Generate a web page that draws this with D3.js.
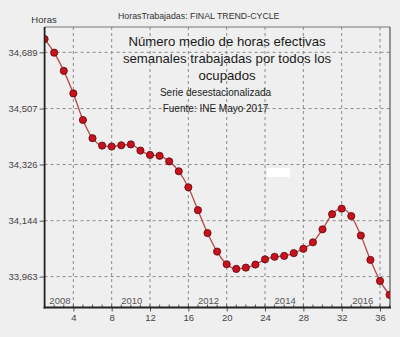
<!DOCTYPE html>
<html><head><meta charset="utf-8">
<script src="https://cdn.jsdelivr.net/npm/d3@7"></script>
<style>
html,body{margin:0;padding:0;background:#efefef;}
svg{display:block;font-family:"Liberation Sans",Arial,sans-serif;}
</style></head>
<body><svg id="c" width="400" height="337"></svg>
<script>
const quarters = d3.range(1, 38);
const hours = [34732,34688,34629,34556,34470,34411,34387,34384,34388,34391,34371,34357,34354,34336,34304,34252,34178,34104,34044,34003,33988,33992,34002,34019,34027,34030,34039,34053,34074,34116,34165,34183,34159,34096,34017,33949,33904];
const yTicks = [33963,34144,34326,34507,34689];
const yTickLabels = ["33,963","34,144","34,326","34,507","34,689"];
const xTicks = [4,8,12,16,20,24,28,32,36];
const yearLabels = ["2008","2010","2012","2014","2016"];
const yearPos = [2.6,10.1,18.1,26.1,34.2];
const titleLines = ["Número medio de horas efectivas","semanales trabajadas por todos los","ocupados"];
const subLines = ["Serie desestacionalizada","Fuente: INE Mayo 2017"];

const svg = d3.select("#c");
const L=44.6, R=389.6, T=27, B=307.5;
const x = d3.scaleLinear().domain([1,37]).range([L,R]);
const y = d3.scaleLinear().domain([33863,34771]).range([B,T]);

svg.append("rect").attr("width",400).attr("height",337).attr("fill","#efefef");

// grid
const g = svg.append("g");
g.selectAll(".vg").data(xTicks).join("line")
  .attr("x1",d=>x(d)).attr("x2",d=>x(d)).attr("y1",T).attr("y2",B)
  .attr("stroke","#8a8a8a").attr("stroke-width",1).attr("stroke-dasharray","3,3");
g.selectAll(".hg").data(yTicks).join("line")
  .attr("x1",L).attr("x2",390).attr("y1",d=>y(d)).attr("y2",d=>y(d))
  .attr("stroke","#8a8a8a").attr("stroke-width",1).attr("stroke-dasharray","3,3");

// white box
svg.append("rect").attr("x",267).attr("y",168).attr("width",23).attr("height",9).attr("fill","#ffffff");

// frame top/right
svg.append("line").attr("x1",L).attr("x2",390).attr("y1",T).attr("y2",T).attr("stroke","#777").attr("stroke-width",1);
svg.append("line").attr("x1",390).attr("x2",390).attr("y1",T).attr("y2",B).attr("stroke","#555").attr("stroke-width",1.2);

// axes
const yAxis = d3.axisLeft(y).tickValues(yTicks).tickFormat((d,i)=>yTickLabels[i]).tickSize(5).tickPadding(2);
const ya = svg.append("g").attr("transform",`translate(${L},0)`).call(yAxis);
ya.select(".domain").remove();
ya.selectAll("line").attr("stroke","#555");
ya.selectAll("text").attr("font-size",9.5).attr("fill","#444").attr("font-family","Liberation Sans, Arial, sans-serif");

const xAxis = d3.axisBottom(x).tickValues(xTicks).tickFormat(d3.format("d")).tickSize(4).tickPadding(3);
const xa = svg.append("g").attr("transform",`translate(0,${B})`).call(xAxis);
xa.select(".domain").remove();
xa.selectAll("line").attr("stroke","#555");
xa.selectAll("text").attr("font-size",9.5).attr("fill","#444").attr("font-family","Liberation Sans, Arial, sans-serif");

// minor ticks inside
svg.append("g").selectAll("line").data(quarters).join("line")
  .attr("x1",d=>x(d)).attr("x2",d=>x(d)).attr("y1",B-3).attr("y2",B)
  .attr("stroke","#555").attr("stroke-width",1);

// year labels
svg.append("g").selectAll("text").data(yearLabels).join("text")
  .attr("x",(d,i)=>x(yearPos[i])).attr("y",B-4).attr("text-anchor","middle")
  .attr("font-size",9.5).attr("fill","#555").text(d=>d);

// titles
svg.append("g").selectAll("text").data(titleLines).join("text")
  .attr("x",227).attr("y",(d,i)=>46+i*17).attr("text-anchor","middle")
  .attr("font-size",13.2).attr("fill","#1a1a1a").text(d=>d);
svg.append("g").selectAll("text").data(subLines).join("text")
  .attr("x",215.5).attr("y",(d,i)=>96+i*16).attr("text-anchor","middle")
  .attr("font-size",10).attr("fill","#222").text(d=>d);

svg.append("text").attr("x",44).attr("y",23).attr("text-anchor","middle").attr("font-size",9.5).attr("fill","#333").text("Horas");
svg.append("text").attr("x",118).attr("y",18.5).attr("font-size",8.8).attr("fill","#333").text("HorasTrabajadas: FINAL TREND-CYCLE");

// data
const clip = svg.append("clipPath").attr("id","clp").append("rect").attr("x",L).attr("y",T).attr("width",390-L).attr("height",B-T);
const dg = svg.append("g").attr("clip-path","url(#clp)");
const line = d3.line().x((d,i)=>x(quarters[i])).y(d=>y(d)).curve(d3.curveMonotoneX);
dg.append("path").datum(hours).attr("d",line).attr("fill","none").attr("stroke","#b84848").attr("stroke-width",1.3);
dg.selectAll("circle").data(hours).join("circle")
  .attr("cx",(d,i)=>x(quarters[i])).attr("cy",d=>y(d)).attr("r",3.6)
  .attr("fill","#c8101e").attr("stroke","#5a0a0a").attr("stroke-width",0.8);

// left & bottom axis lines
svg.append("line").attr("x1",L).attr("x2",L).attr("y1",T).attr("y2",B+1).attr("stroke","#222").attr("stroke-width",1.8);
svg.append("line").attr("x1",L-1).attr("x2",391).attr("y1",B).attr("y2",B).attr("stroke","#222").attr("stroke-width",1.8);
</script></body></html>
